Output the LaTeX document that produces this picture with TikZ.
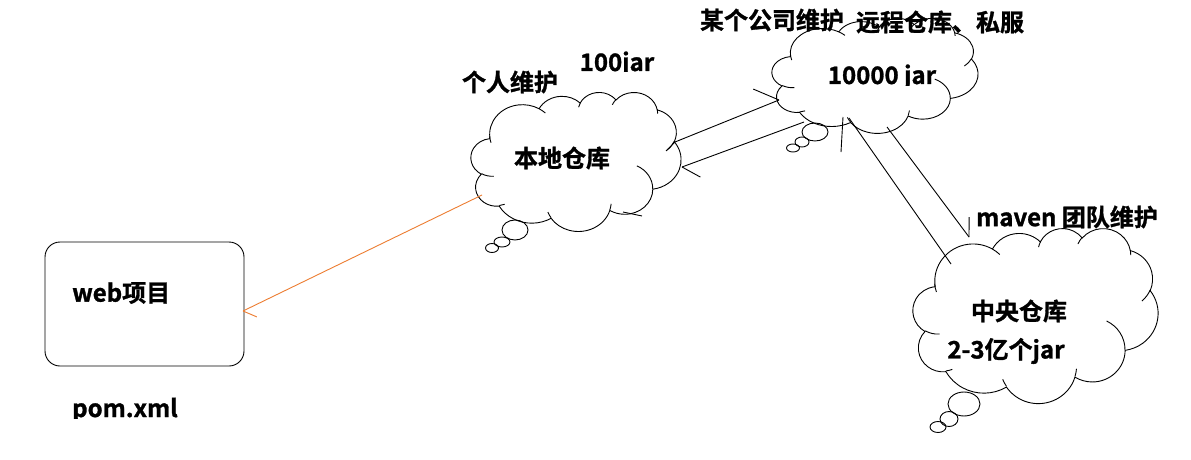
\documentclass[tikz,border=0pt]{standalone}
\usepackage{fontspec}
\setmainfont{Noto Sans CJK SC}[BoldFont={Noto Sans CJK SC Bold}, BoldFeatures={FakeBold=1.2}]
\usetikzlibrary{calc}
% PowerPoint cloud arcs: name, x radius, y radius, visual start angle, sweep
\newcommand\defarc[5]{%
  \pgfmathsetmacro\tmpta{atan2(#2*sin(#4), #3*cos(#4))}%
  \pgfmathsetmacro\tmptb{atan2(#2*sin(#4+#5), #3*cos(#4+#5))}%
  \pgfmathsetmacro\tmpd{mod(\tmptb-(\tmpta)+720,360)}%
  \expandafter\xdef\csname cloudarc#1\endcsname{arc[start angle=\tmpta, delta angle=\tmpd, x radius=#2, y radius=#3]}%
}
\defarc{a}{67.53}{91.90}{-190.4875}{123.7805}
\defarc{b}{53.33}{72.67}{-144.1024}{89.9452}
\defarc{c}{43.65}{59.45}{-145.8079}{99.7230}
\defarc{d}{48.57}{65.95}{-130.9861}{117.2417}
\defarc{e}{53.33}{72.73}{-78.7089}{109.0269}
\defarc{f}{67.75}{92.20}{-46.2673}{130.2690}
\defarc{g}{57.85}{78.67}{0.6250}{114.0333}
\defarc{h}{67.52}{92.15}{22.4516}{115.1726}
\defarc{i}{77.20}{105.43}{66.2426}{75.7110}
\defarc{j}{43.60}{59.18}{-274.9421}{146.7356}
\defarc{k}{43.45}{59.45}{-246.8285}{152.5189}
\defarc{A}{43.45}{59.45}{86.7420}{26.4295}
\defarc{B}{43.60}{59.18}{73.6105}{11.4475}
\defarc{C}{67.52}{92.15}{137.6242}{14.0811}
\defarc{D}{67.52}{92.15}{6.4533}{15.9984}
\defarc{E}{57.85}{78.67}{-70.2924}{70.9174}
\defarc{F}{53.33}{72.73}{30.3180}{27.7515}
\defarc{G}{48.57}{65.95}{-13.7443}{14.8589}
\defarc{H}{48.57}{65.95}{-149.1815}{18.1954}
\defarc{I}{43.65}{59.45}{-163.4943}{17.6864}
\defarc{J}{67.53}{91.90}{-66.7070}{12.3194}
\defarc{K}{67.53}{91.90}{155.6472}{16.8081}
% cloud: x0, y0, width, height (pixels)
\newcommand\pptcloud[4]{%
  \pgfmathsetmacro\cloudsx{#3/432}%
  \pgfmathsetmacro\cloudsy{#4/432}%
  \begin{scope}[shift={(#1,#2)}, x=\cloudsx pt, y=-\cloudsy pt]
    \draw[thinline] (39.00,143.70) \cloudarca \cloudarcb \cloudarcc \cloudarcd
      \cloudarce \cloudarcf \cloudarcg \cloudarch \cloudarci \cloudarcj \cloudarck -- cycle;
    \draw[thinline] (46.93,261.77) \cloudarcA (69.28,348.99) \cloudarcB
      (164.78,390.90) \cloudarcC (288.27,347.51) \cloudarcD
      (341.29,229.54) \cloudarcE (417.98,153.54) \cloudarcF
      (383.24,54.26) \cloudarcG (290.78,39.52) \cloudarcH
      (221.41,47.20) \cloudarcI (140.00,51.92) \cloudarcJ
      (41.27,157.89) \cloudarcK;
  \end{scope}%
}
\definecolor{pptorange}{RGB}{237,125,49}
\begin{document}
\begin{tikzpicture}[x=1pt,y=-1pt,
  thinline/.style={draw=black, line width=0.9pt},
  orangeline/.style={draw=pptorange, line width=0.9pt},
  lbl/.style={font=\bfseries\fontsize{24}{26}\selectfont, inner sep=0pt, text=black},
  bubble/.style={thinline}]
\useasboundingbox[fill=white] (0,0) rectangle (1191,460);

% web project box
\node[draw=black, line width=0.9pt, rounded corners=15pt, minimum width=199pt, minimum height=124pt, inner sep=0pt] (web) at (144.5,304) {};
\node[lbl, anchor=west] (webt) at (72,293) {web项目};
\begin{scope}
  \clip (0,0) rectangle (1191,418.5);
  \node[lbl, anchor=west] (pom) at (72,410) {pom.xml};
\end{scope}

% clouds
\pptcloud{471}{92}{210}{139}
\pptcloud{772}{18}{206}{115}
\pptcloud{913}{228}{245}{175}

% thought bubbles
\draw[bubble] (515,230) ellipse [x radius=13, y radius=10];
\draw[bubble] (502,242) ellipse [x radius=8, y radius=5];
\draw[bubble] (492,248) ellipse [x radius=6.5, y radius=4.5];
\draw[bubble] (815,132) ellipse [x radius=13, y radius=9];
\draw[bubble] (802,142) ellipse [x radius=7, y radius=5];
\draw[bubble] (793,148) ellipse [x radius=6.5, y radius=4];
\draw[bubble] (964,404) ellipse [x radius=16, y radius=12];
\draw[bubble] (949,419) ellipse [x radius=9, y radius=7.5];
\draw[bubble] (938,427) ellipse [x radius=8, y radius=5.5];

% texts
\node[lbl] (local) at (562,158) {本地仓库};
\node[lbl] (self) at (510,82) {个人维护};
\begin{scope}
  \clip (0,0) rectangle (1191,71.5);
  \node[lbl] (n100) at (617,64) {100jar};
\end{scope}
\node[lbl] (company) at (772,20) {某个公司维护};
\node[lbl] (remote) at (940,22) {远程仓库、私服};
\begin{scope}
  \clip (0,0) rectangle (1191,85.5);
  \node[lbl] (n10000) at (882,77) {10000 jar};
\end{scope}
\node[lbl] (team) at (1067,217) {maven 团队维护};
\node[lbl] (central) at (1019,311) {中央仓库};
\node[lbl] (count) at (1006,351) {2-3亿个jar};

% connectors
\coordinate (oS) at (482,195);
\coordinate (oT) at (243,311);
\draw[orangeline] (oS) -- (oT);
\draw[orangeline] (oT) -- ($(oT)!15pt!-49:(oS)$);

\coordinate (aS) at (675,142);
\coordinate (aT) at (779,100);
\coordinate (aK) at (666,151);
\draw[thinline] (aS) -- (aT);
\draw[thinline] (aT) -- ($(aT)!28pt!-45:(aS)$);
\draw[thinline] (aS) -- (aK);

\coordinate (bS) at (804,122);
\coordinate (bT) at (682,167);
\draw[thinline] (bS) -- (bT);
\draw[thinline] (bT) -- ($(bT)!21pt!-49:(bS)$);

\coordinate (cS) at (951,264);
\coordinate (cT) at (849,118);
\coordinate (cB1) at (843,117);
\coordinate (cB2) at (841,152);
\draw[thinline] (cS) -- (cT);
\draw[thinline] (cB1) -- (cB2);

\coordinate (dS) at (887,127);
\coordinate (dT) at (969,237);
\draw[thinline] (dS) -- (dT);
\draw[thinline] (dT) -- ($(dT)!20pt!-37:(dS)$);

\coordinate (t1) at (623,212);
\coordinate (t2) at (642,216);
\draw[thinline] (t1) -- (t2);
\end{tikzpicture}
\end{document}
